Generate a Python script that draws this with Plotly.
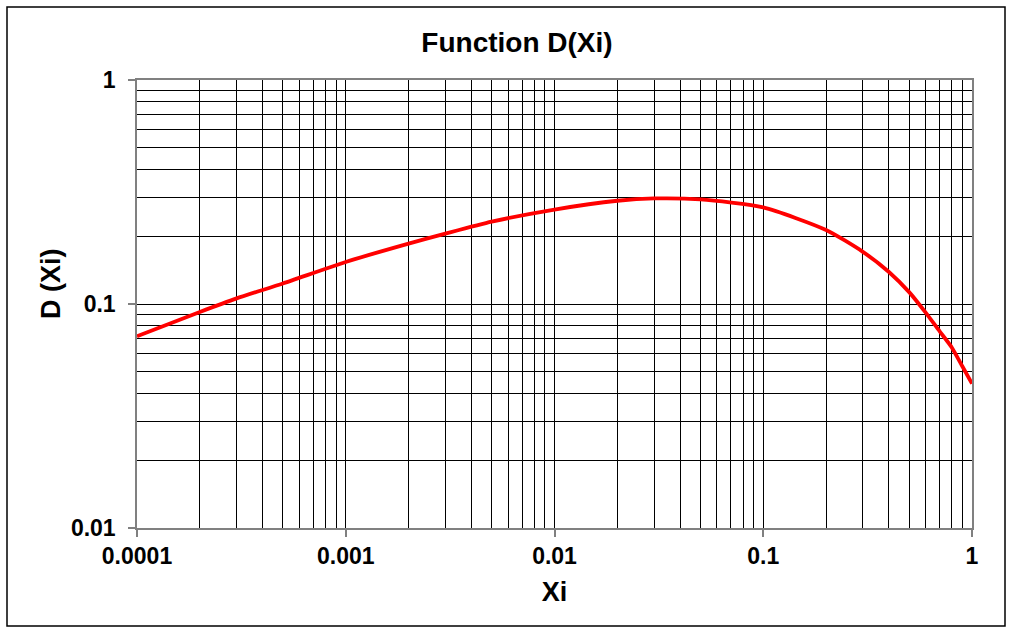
import plotly.graph_objects as go

xi = [0.0001, 0.0002, 0.0003, 0.0005, 0.001, 0.002, 0.003, 0.005, 0.01, 0.02,
      0.03, 0.05, 0.1, 0.2, 0.3, 0.4, 0.5, 0.6, 0.7, 0.8, 0.9, 1.0]
d_xi = [0.0718, 0.0922, 0.106, 0.1235, 0.154, 0.186, 0.206, 0.233, 0.264, 0.289,
        0.296, 0.293, 0.270, 0.214, 0.171, 0.139, 0.113, 0.0915, 0.0755, 0.0640, 0.0526, 0.0441]

x_ticks = [0.0001, 0.001, 0.01, 0.1, 1]
x_labels = ["0.0001", "0.001", "0.01", "0.1", "1"]
y_ticks = [0.01, 0.1, 1]
y_labels = ["0.01", "0.1", "1"]

W, H = 1009, 628
L, R, T, B = 137, 37, 80, 100
pw, ph = W - L - R, H - T - B

font = "Liberation Sans, Arial, sans-serif"

fig = go.Figure()
fig.add_trace(go.Scatter(x=xi, y=d_xi, mode="lines",
                         line=dict(color="#ff0000", width=3.8, shape="spline", smoothing=0.6),
                         showlegend=False, hoverinfo="x+y"))

axis_common = dict(
    type="log",
    showline=True, linecolor="#808080", linewidth=1.5, mirror=True,
    showgrid=True, gridcolor="#000000", gridwidth=1,
    ticks="outside", ticklen=7, tickcolor="#808080", tickwidth=1.5,
    tickfont=dict(family=font, size=23, color="#000000", weight="bold"),
    zeroline=False,
    minor=dict(showgrid=True, gridcolor="#000000", gridwidth=1, dtick="D1", ticks=""),
)

fig.update_xaxes(**axis_common, range=[-4, 0], tickvals=x_ticks, ticktext=x_labels,
                 title=dict(text="<b>Xi</b>", font=dict(family=font, size=27, color="#000000"), standoff=14))
fig.update_yaxes(**axis_common, range=[-2, 0], tickvals=y_ticks, ticktext=y_labels,
                 ticklabelstandoff=8)

def px_x(p):
    return (p - L) / pw

def px_y(p):
    return (H - B - p) / ph

fig.add_annotation(text="<b>D (Xi)</b>", textangle=-90, showarrow=False,
                   xref="paper", yref="paper", x=px_x(51), y=px_y(284),
                   xanchor="center", yanchor="middle",
                   font=dict(family=font, size=27, color="#000000"))

fig.add_shape(type="rect", xref="paper", yref="paper",
              x0=px_x(7), x1=px_x(1005), y0=px_y(626), y1=px_y(7),
              line=dict(color="#000000", width=1.5), fillcolor="rgba(0,0,0,0)", layer="below")

fig.update_layout(
    width=W, height=H,
    margin=dict(l=L, r=R, t=T, b=B),
    paper_bgcolor="#ffffff", plot_bgcolor="#ffffff",
    title=dict(text="<b>Function D(Xi)</b>", x=517 / W, xanchor="center",
               y=1 - 42 / H, yanchor="middle", yref="container",
               font=dict(family=font, size=28, color="#000000")),
)

fig.write_html("out.html")
